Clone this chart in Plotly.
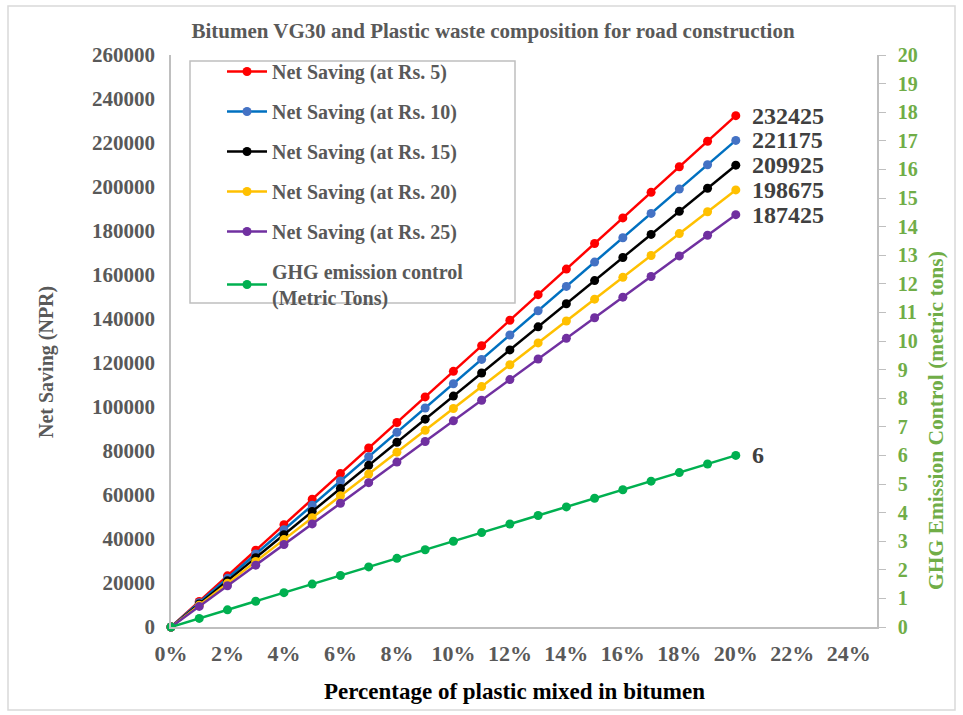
import plotly.graph_objects as go

# Percentage of plastic mixed in bitumen (fraction)
plastic_pct = [0.00, 0.01, 0.02, 0.03, 0.04, 0.05, 0.06, 0.07, 0.08, 0.09, 0.10,
               0.11, 0.12, 0.13, 0.14, 0.15, 0.16, 0.17, 0.18, 0.19, 0.20]

# Net saving (NPR) at different plastic waste prices
saving_rs5 = [0, 11621.25, 23242.5, 34863.75, 46485, 58106.25, 69727.5, 81348.75, 92970,
              104591.25, 116212.5, 127833.75, 139455, 151076.25, 162697.5, 174318.75,
              185940, 197561.25, 209182.5, 220803.75, 232425]
saving_rs10 = [0, 11058.75, 22117.5, 33176.25, 44235, 55293.75, 66352.5, 77411.25, 88470,
               99528.75, 110587.5, 121646.25, 132705, 143763.75, 154822.5, 165881.25,
               176940, 187998.75, 199057.5, 210116.25, 221175]
saving_rs15 = [0, 10496.25, 20992.5, 31488.75, 41985, 52481.25, 62977.5, 73473.75, 83970,
               94466.25, 104962.5, 115458.75, 125955, 136451.25, 146947.5, 157443.75,
               167940, 178436.25, 188932.5, 199428.75, 209925]
saving_rs20 = [0, 9933.75, 19867.5, 29801.25, 39735, 49668.75, 59602.5, 69536.25, 79470,
               89403.75, 99337.5, 109271.25, 119205, 129138.75, 139072.5, 149006.25,
               158940, 168873.75, 178807.5, 188741.25, 198675]
saving_rs25 = [0, 9371.25, 18742.5, 28113.75, 37485, 46856.25, 56227.5, 65598.75, 74970,
               84341.25, 93712.5, 103083.75, 112455, 121826.25, 131197.5, 140568.75,
               149940, 159311.25, 168682.5, 178053.75, 187425]

# GHG emission control (metric tons)
ghg_tons = [0, 0.3, 0.6, 0.9, 1.2, 1.5, 1.8, 2.1, 2.4, 2.7, 3.0,
            3.3, 3.6, 3.9, 4.2, 4.5, 4.8, 5.1, 5.4, 5.7, 6.0]

series_names = ["Net Saving (at Rs. 5)", "Net Saving (at Rs. 10)", "Net Saving (at Rs. 15)",
                "Net Saving (at Rs. 20)", "Net Saving (at Rs. 25)"]
ghg_name = "GHG emission control<br>(Metric Tons)"

x_tick_vals = [0.00, 0.02, 0.04, 0.06, 0.08, 0.10, 0.12, 0.14, 0.16, 0.18, 0.20, 0.22, 0.24]
y_left_ticks = list(range(0, 260001, 20000))
y_right_ticks = list(range(0, 21))

SERIF = "Times New Roman, Liberation Serif, serif"
GRAY = "#595959"
GREEN_AX = "#70AD47"
AXIS_LINE = "#BFBFBF"
LABEL_COLOR = "#404040"

line_colors = ["#FF0000", "#0070C0", "#000000", "#FFC000", "#7030A0"]
marker_colors = ["#FF0000", "#4472C4", "#000000", "#FFC000", "#7030A0"]
ghg_color = "#00B050"

W, H = 963, 715
ML, MR, MT, MB = 171, 86, 55, 88
plot_w = W - ML - MR
plot_h = H - MT - MB


def px_x(p):
    return (p - ML) / plot_w


def px_y(p):
    return (H - MB - p) / plot_h


fig = go.Figure()
annotations = []

saving_series = [saving_rs5, saving_rs10, saving_rs15, saving_rs20, saving_rs25]
for i, ys in enumerate(saving_series):
    fig.add_trace(go.Scatter(
        x=plastic_pct, y=ys, name=series_names[i], legendgroup=f"g{i}",
        mode="lines+markers",
        line=dict(color=line_colors[i], width=2.5),
        marker=dict(color=marker_colors[i], size=9),
        cliponaxis=False,
    ))
    # value label at the end of each line
    annotations.append(dict(
        x=plastic_pct[-1], y=ys[-1], xref="x", yref="y",
        text=f"{ys[-1]:.0f}", showarrow=False, xanchor="left", yanchor="middle",
        xshift=14, font=dict(family=SERIF, size=24, color=LABEL_COLOR, weight="bold"),
    ))

fig.add_trace(go.Scatter(
    x=plastic_pct, y=ghg_tons, name=ghg_name, legendgroup="g5", yaxis="y2",
    mode="lines+markers",
    line=dict(color=ghg_color, width=2.5),
    marker=dict(color=ghg_color, size=9),
    cliponaxis=False,
))
annotations.append(dict(
    x=plastic_pct[-1], y=ghg_tons[-1], xref="x", yref="y2",
    text=f"{ghg_tons[-1]:g}", showarrow=False, xanchor="left", yanchor="middle",
    xshift=14, font=dict(family=SERIF, size=24, color=LABEL_COLOR, weight="bold"),
))

# axis titles
annotations.append(dict(
    text="Net Saving (NPR)", xref="paper", yref="paper",
    x=px_x(46), y=px_y(362), xanchor="center", yanchor="middle",
    textangle=-90, showarrow=False,
    font=dict(family=SERIF, size=20, color=GRAY, weight="bold"),
))
annotations.append(dict(
    text="GHG Emission Control (metric tons)", xref="paper", yref="paper",
    x=px_x(936), y=px_y(421), xanchor="center", yanchor="middle",
    textangle=-90, showarrow=False,
    font=dict(family=SERIF, size=21.5, color=GREEN_AX, weight="bold"),
))
annotations.append(dict(
    text="Percentage of plastic mixed in bitumen", xref="paper", yref="paper",
    x=px_x(514), y=px_y(692), xanchor="center", yanchor="middle",
    showarrow=False,
    font=dict(family=SERIF, size=23, color="#000000", weight="bold"),
))

fig.update_layout(
    width=W, height=H,
    margin=dict(l=ML, r=MR, t=MT, b=MB),
    paper_bgcolor="white", plot_bgcolor="white",
    font=dict(family=SERIF, color=GRAY),
    title=dict(
        text="Bitumen VG30 and Plastic waste composition for road construction",
        font=dict(family=SERIF, size=21, color=GRAY, weight="bold"),
        x=493 / W, xanchor="center", y=1 - 31 / H, yanchor="middle",
    ),
    xaxis=dict(
        range=[0, 0.25], tickvals=x_tick_vals, tickformat=".0%",
        showgrid=False, zeroline=False,
        showline=True, linecolor=AXIS_LINE, linewidth=1.5,
        ticks="", ticklabelstandoff=6,
        tickfont=dict(family=SERIF, size=22, color=GRAY, weight="bold"),
    ),
    yaxis=dict(
        range=[0, 260000], tickvals=y_left_ticks, tickformat="d",
        showgrid=False, zeroline=False,
        showline=True, linecolor=AXIS_LINE, linewidth=1.5,
        ticks="", ticklabelstandoff=10,
        tickfont=dict(family=SERIF, size=21, color=GRAY, weight="bold"),
    ),
    yaxis2=dict(
        range=[0, 20], tickvals=y_right_ticks, overlaying="y", side="right",
        showgrid=False, zeroline=False,
        showline=True, linecolor=AXIS_LINE, linewidth=1.5,
        ticks="outside", ticklen=7, tickcolor=AXIS_LINE, ticklabelstandoff=8,
        tickfont=dict(family=SERIF, size=20, color=GREEN_AX, weight="bold"),
    ),
    legend=dict(
        x=px_x(222), y=px_y(52), xanchor="left", yanchor="top",
        bgcolor="rgba(0,0,0,0)", borderwidth=0,
        font=dict(family=SERIF, size=20, color=GRAY, weight="bold"),
        tracegroupgap=11, itemwidth=40,
    ),
    annotations=annotations,
    shapes=[
        # legend frame
        dict(type="rect", xref="paper", yref="paper",
             x0=px_x(190), x1=px_x(515), y0=px_y(303), y1=px_y(61),
             line=dict(color=AXIS_LINE, width=1.5), fillcolor="rgba(0,0,0,0)"),
        # chart area frame
        dict(type="rect", xref="paper", yref="paper",
             x0=px_x(8), x1=px_x(955), y0=px_y(710), y1=px_y(6),
             line=dict(color="#D9D9D9", width=1.5), fillcolor="rgba(0,0,0,0)"),
    ],
)

fig.write_html("out.html")
